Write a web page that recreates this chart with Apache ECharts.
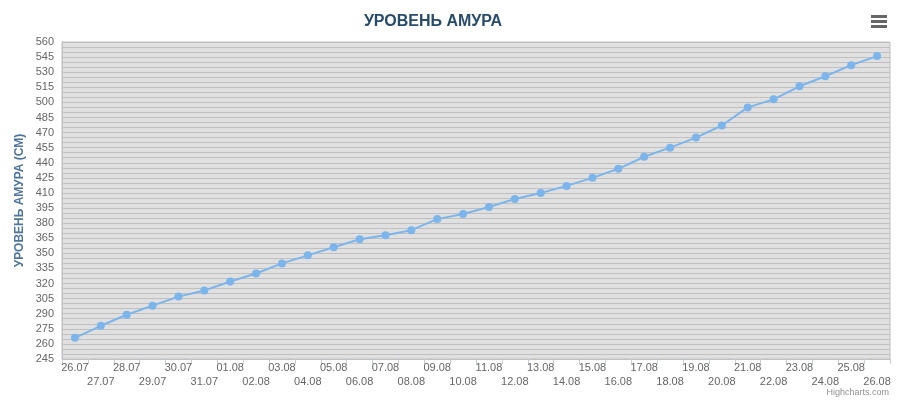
<!DOCTYPE html>
<html><head><meta charset="utf-8">
<script src="https://cdn.jsdelivr.net/npm/echarts@6/dist/echarts.min.js"></script>
<style>html,body{margin:0;padding:0;background:#fff}#c{width:900px;height:400px}</style>
</head><body><div id="c"></div>
<script>
const categories = ['26.07','27.07','28.07','29.07','30.07','31.07','01.08','02.08','03.08','04.08','05.08','06.08','07.08','08.08','09.08','10.08','11.08','12.08','13.08','14.08','15.08','16.08','17.08','18.08','19.08','20.08','21.08','22.08','23.08','24.08','25.08','26.08'];
const levels = [266,278,289,298,307,313,322,330,340,348,356,364,368,373,384,389,396,404,410,417,425,434,446,455,465,477,495,503,516,526,537,546];
const yLabelValues = [245,260,275,290,305,320,335,350,365,380,395,410,425,440,455,470,485,500,515,530,545,560];
const titleText = 'УРОВЕНЬ АМУРА';
const yAxisName = 'УРОВЕНЬ АМУРА (СМ)';
const creditText = 'Highcharts.com';

const FONT = '"Liberation Sans Narrow", "Liberation Sans", Arial, sans-serif';
const chart = echarts.init(document.getElementById('c'), null, {renderer: 'canvas'});
chart.setOption({
  backgroundColor: '#ffffff',
  animation: false,
  title: {
    text: titleText,
    left: 428, top: 9, textAlign: 'center',
    textStyle: {color: '#274b6d', fontSize: 16, fontWeight: 'bold', fontFamily: '"Liberation Sans", Arial, sans-serif'}
  },
  grid: {
    left: 62, right: 10, top: 42, bottom: 41,
    show: true, backgroundColor: '#e0e0e0', borderColor: '#c0c0c0', borderWidth: 1
  },
  xAxis: {
    type: 'category',
    data: categories,
    boundaryGap: true,
    axisLine: {show: true, lineStyle: {color: '#c0c0c0', width: 1}},
    axisTick: {show: true, alignWithLabel: false, length: 5, lineStyle: {color: '#c0d0e0'}},
    axisLabel: {
      interval: 0, margin: 2, color: '#666666', fontSize: 11, lineHeight: 14, fontFamily: FONT,
      formatter: (v, i) => (i % 2 ? '\n' + v : v)
    },
    splitLine: {show: false}
  },
  yAxis: {
    type: 'value',
    min: 245, max: 560, interval: 5,
    name: yAxisName,
    nameLocation: 'middle', nameGap: 36, nameMoveOverlap: false,
    nameTextStyle: {color: '#4d759e', fontSize: 12, fontWeight: 'bold', fontFamily: '"Liberation Sans", Arial, sans-serif'},
    axisLine: {show: true, lineStyle: {color: '#c0c0c0'}},
    axisTick: {show: false},
    axisLabel: {
      margin: 8, color: '#666666', fontSize: 11, fontFamily: FONT,
      formatter: v => (yLabelValues.indexOf(v) >= 0 ? String(v) : '')
    },
    splitLine: {show: true, lineStyle: {color: '#c0c0c0', width: 1}}
  },
  series: [{
    type: 'line',
    data: levels,
    symbol: 'circle', symbolSize: 8,
    lineStyle: {color: '#7cb5ec', width: 2},
    itemStyle: {color: '#7cb5ec'}
  }],
  graphic: [
    {type: 'rect', shape: {x: 871, y: 15, width: 16, height: 3}, style: {fill: '#666666'}},
    {type: 'rect', shape: {x: 871, y: 20, width: 16, height: 3}, style: {fill: '#666666'}},
    {type: 'rect', shape: {x: 871, y: 25, width: 16, height: 3}, style: {fill: '#666666'}},
    {type: 'text', right: 11, top: 388, style: {text: creditText, fill: '#909090', fontSize: 9, fontFamily: FONT}}
  ]
});
</script></body></html>
